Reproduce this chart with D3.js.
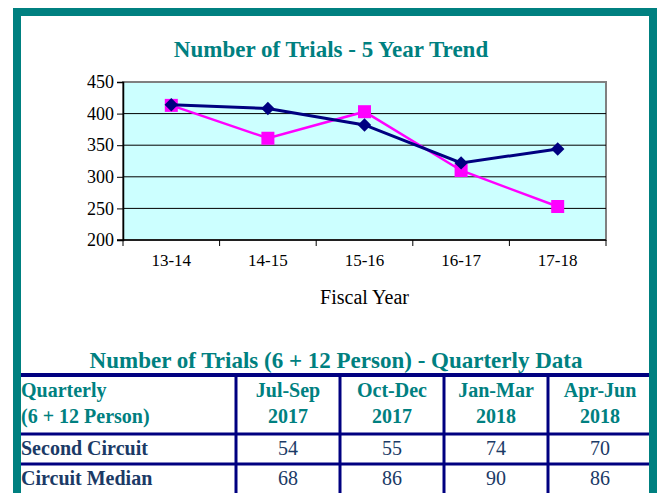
<!DOCTYPE html>
<html>
<head>
<meta charset="utf-8">
<script src="https://cdn.jsdelivr.net/npm/d3@7"></script>
<style>
  body { margin: 0; background: #fff; }
</style>
</head>
<body>
<div id="chart"></div>
<script>
// données du graphique
var years = ["13-14", "14-15", "15-16", "16-17", "17-18"];
var secondCircuit = [414, 408, 382, 322, 344];
var circuitMedian = [413, 361, 403, 310, 253];
var yTicks = [200, 250, 300, 350, 400, 450];

// données du tableau
var quarters = [["Jul-Sep", "2017"], ["Oct-Dec", "2017"], ["Jan-Mar", "2018"], ["Apr-Jun", "2018"]];
var rowLabels = ["Second Circuit", "Circuit Median"];
var rowValues = [[54, 55, 74, 70], [68, 86, 90, 86]];

var W = 658, H = 493;
var teal = "#008080", navy = "#000080", magenta = "#ff00ff", textNavy = "#1b3a66";
var serif = "'Liberation Serif', 'Times New Roman', serif";

var svg = d3.select("#chart").append("svg")
  .attr("width", W).attr("height", H)
  .style("display", "block");

// titre
svg.append("text")
  .attr("x", 331).attr("y", 57)
  .attr("text-anchor", "middle")
  .style("font-size", "23px").style("font-weight", "bold")
  .attr("fill", teal)
  .text("Number of Trials - 5 Year Trend");

var plot = { left: 123, right: 606, top: 82, bottom: 240 };

var x = d3.scaleBand().domain(years).range([plot.left, plot.right]);
var y = d3.scaleLinear().domain([200, 450]).range([plot.bottom, plot.top]);

// fond de la zone de tracé
svg.append("rect")
  .attr("x", plot.left).attr("y", plot.top)
  .attr("width", plot.right - plot.left).attr("height", plot.bottom - plot.top)
  .attr("fill", "#ccffff")
  .attr("stroke", "#808080").attr("stroke-width", 2);

// lignes de grille
svg.selectAll(".grid")
  .data(yTicks.filter(function(d) { return d > 200 && d < 450; }))
  .enter().append("line")
  .attr("x1", plot.left).attr("x2", plot.right)
  .attr("y1", function(d) { return y(d); })
  .attr("y2", function(d) { return y(d); })
  .attr("stroke", "#000").attr("stroke-width", 1);

// axe y
var yAxis = svg.append("g")
  .attr("transform", "translate(" + plot.left + ",0)")
  .call(d3.axisLeft(y).tickValues(yTicks).tickSize(6).tickPadding(3));
yAxis.select(".domain").attr("stroke", "#000").attr("stroke-width", 1.5);
yAxis.selectAll("text").style("font-size", "18px").attr("fill", "#000");

// axe x : graduations aux limites des catégories
var xAxis = svg.append("g")
  .attr("transform", "translate(0," + plot.bottom + ")");
xAxis.append("line")
  .attr("x1", plot.left - 6).attr("x2", plot.right)
  .attr("stroke", "#000").attr("stroke-width", 1.5);
var bounds = years.map(function(d) { return x(d); }).concat([x(years[years.length - 1]) + x.bandwidth()]);
xAxis.selectAll(".tk").data(bounds).enter().append("line")
  .attr("x1", function(d) { return d; }).attr("x2", function(d) { return d; })
  .attr("y1", 0).attr("y2", 6)
  .attr("stroke", "#000").attr("stroke-width", 1);
xAxis.selectAll(".lbl").data(years).enter().append("text")
  .attr("x", function(d) { return x(d) + x.bandwidth() / 2; })
  .attr("y", 26)
  .attr("text-anchor", "middle")
  .style("font-size", "17px")
  .text(function(d) { return d; });

svg.append("text")
  .attr("x", (plot.left + plot.right) / 2).attr("y", 304)
  .attr("text-anchor", "middle")
  .style("font-size", "20px")
  .text("Fiscal Year");

var cx = function(d, i) { return x(years[i]) + x.bandwidth() / 2; };
var line = d3.line().x(function(d, i) { return cx(d, i); }).y(function(d) { return y(d); });

// série magenta (carrés)
svg.append("path").datum(circuitMedian)
  .attr("d", line).attr("fill", "none")
  .attr("stroke", magenta).attr("stroke-width", 2.5);
svg.selectAll(".sq").data(circuitMedian).enter().append("rect")
  .attr("x", function(d, i) { return cx(d, i) - 6.5; })
  .attr("y", function(d) { return y(d) - 6.5; })
  .attr("width", 13).attr("height", 13)
  .attr("fill", magenta);

// série bleu marine (losanges)
svg.append("path").datum(secondCircuit)
  .attr("d", line).attr("fill", "none")
  .attr("stroke", navy).attr("stroke-width", 3);
svg.selectAll(".dm").data(secondCircuit).enter().append("path")
  .attr("d", d3.symbol().type(d3.symbolDiamond2).size(115))
  .attr("transform", function(d, i) { return "translate(" + cx(d, i) + "," + y(d) + ")"; })
  .attr("fill", navy);

// tableau trimestriel
svg.append("text")
  .attr("x", 336).attr("y", 368)
  .attr("text-anchor", "middle")
  .style("font-size", "23px").style("font-weight", "bold")
  .attr("fill", teal)
  .text("Number of Trials (6 + 12 Person) - Quarterly Data");

var colX = d3.scaleBand().domain(d3.range(quarters.length)).range([236, 652]);
var tableTop = 375, headBottom = 434, rowH = 30;

// en-tête
var head = svg.append("g").style("font-size", "20px").style("font-weight", "bold").attr("fill", teal);
head.append("text").attr("x", 21).attr("y", 397).text("Quarterly");
head.append("text").attr("x", 21).attr("y", 423).text("(6 + 12 Person)");
quarters.forEach(function(q, i) {
  head.append("text").attr("x", colX(i) + colX.bandwidth() / 2).attr("y", 397)
    .attr("text-anchor", "middle").text(q[0]);
  head.append("text").attr("x", colX(i) + colX.bandwidth() / 2).attr("y", 423)
    .attr("text-anchor", "middle").text(q[1]);
});

// lignes du tableau
rowLabels.forEach(function(lbl, r) {
  var base = headBottom + rowH * r + 21;
  svg.append("text").attr("x", 21).attr("y", base)
    .style("font-size", "20px").style("font-weight", "bold").attr("fill", textNavy)
    .text(lbl);
  svg.selectAll(".v" + r).data(rowValues[r]).enter().append("text")
    .attr("x", function(d, i) { return colX(i) + colX.bandwidth() / 2; })
    .attr("y", base)
    .attr("text-anchor", "middle")
    .style("font-size", "20px").attr("fill", textNavy)
    .text(function(d) { return d; });
});

// traits du tableau
svg.append("line").attr("x1", 20).attr("x2", 652).attr("y1", tableTop).attr("y2", tableTop)
  .attr("stroke", navy).attr("stroke-width", 4);
[headBottom, headBottom + rowH].forEach(function(yy) {
  svg.append("line").attr("x1", 20).attr("x2", 652).attr("y1", yy).attr("y2", yy)
    .attr("stroke", navy).attr("stroke-width", 3);
});
d3.range(quarters.length).forEach(function(i) {
  svg.append("line").attr("x1", colX(i)).attr("x2", colX(i))
    .attr("y1", tableTop).attr("y2", H)
    .attr("stroke", navy).attr("stroke-width", 3);
});

// cadre
svg.append("rect")
  .attr("x", 17).attr("y", 12).attr("width", 636).attr("height", H)
  .attr("fill", "none").attr("stroke", teal).attr("stroke-width", 8);

// police serif partout
svg.selectAll("text").style("font-family", serif);
</script>
</body>
</html>
